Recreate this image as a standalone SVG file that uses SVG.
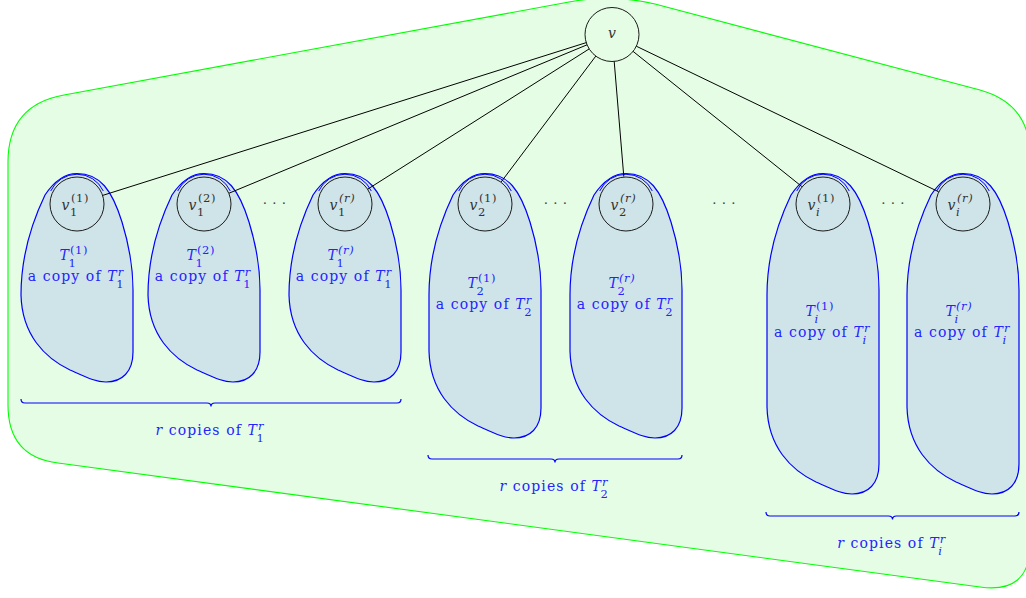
<svg xmlns="http://www.w3.org/2000/svg" xmlns:xlink="http://www.w3.org/1999/xlink" width="1026" height="598" viewBox="0 0 1026 598">
<style>
.bg{fill:#e5fde5;stroke:#00ff00;stroke-width:1.1}
.blob{fill:#cfe4e8;stroke:#0000ff;stroke-width:1.2}
.arc{fill:none;stroke:#0000ff;stroke-width:1}
.cir{fill:none;stroke:#1a1a1a;stroke-width:1}
.edge{stroke:#000;stroke-width:1}
.brace{fill:none;stroke:#0000ff;stroke-width:1.2}
text{font-family:"DejaVu Serif","Liberation Serif",serif}
.lab{font-size:14px;fill:#2424ff;letter-spacing:1.1px}
.nl{font-size:14px;fill:#333}
.sc{font-size:11.5px;letter-spacing:0.6px}
.it{font-style:italic}
.dots{font-size:13.5px;fill:#444}
</style>
<defs>
<path id="blob0" d="M0,173.5 C23,173.5 35,190 45,222 C53,248 56,270 56,290 L56,352 C56,372 45,382 29,382 C19,382 11,378 -7,370 C-32,358 -55,335 -56,295 C-56,255 -44,220 -32,195 C-22,180 -12,173.5 0,173.5Z"/>
<path id="blob1" d="M0,173.5 C23,173.5 35,190 45,222 C53,248 56,270 56,290 L56,408 C56,428 45,438 29,438 C19,438 11,434 -7,426 C-32,414 -55,391 -56,351 L-56,295 C-56,255 -44,220 -32,195 C-22,180 -12,173.5 0,173.5Z"/>
<path id="blob2" d="M0,173.5 C23,173.5 35,190 45,222 C53,248 56,270 56,290 L56,464 C56,484 45,494 29,494 C19,494 11,490 -7,482 C-32,470 -55,447 -56,407 L-56,295 C-56,255 -44,220 -32,195 C-22,180 -12,173.5 0,173.5Z"/>
<g id="top">
<path class="arc" d="M-26.3,191 A29 29 0 0 1 26.3,191"/>
<circle class="cir" cx="0" cy="204" r="27"/>
</g>
</defs>

<path id="region" class="bg" d="M569,2 L64,95 Q8,105 8,162 L8,405 Q8,457 58,463 L980,587 Q1030,594 1030,545 L1030,155 Q1030,104 980,90 L655,4 Q612,-6 569,2 Z"/>

<g id="T1-1">
<use href="#blob0" x="77" class="blob"/>
<use href="#top" x="77"/>
<text class="nl it" x="61.5" y="210">v</text><text class="nl sc" x="71" y="201.5">(1)</text><text class="nl sc" x="70" y="216">1</text>
<text class="lab it" x="59.5" y="260">T</text><text class="lab sc" x="70" y="253.5">(1)</text><text class="lab sc" x="68.5" y="266.5">1</text>
<text class="lab" x="76" y="281" text-anchor="middle">a copy of <tspan class="it">T</tspan><tspan class="sc it" dy="-5">r</tspan><tspan class="sc" dx="-7.5" dy="12">1</tspan></text>
</g>
<g id="T1-2">
<use href="#blob0" x="204" class="blob"/>
<use href="#top" x="204"/>
<text class="nl it" x="188.5" y="210">v</text><text class="nl sc" x="198" y="201.5">(2)</text><text class="nl sc" x="197" y="216">1</text>
<text class="lab it" x="186.5" y="260">T</text><text class="lab sc" x="197" y="253.5">(2)</text><text class="lab sc" x="195.5" y="266.5">1</text>
<text class="lab" x="203" y="281" text-anchor="middle">a copy of <tspan class="it">T</tspan><tspan class="sc it" dy="-5">r</tspan><tspan class="sc" dx="-7.5" dy="12">1</tspan></text>
</g>
<g id="T1-r">
<use href="#blob0" x="345" class="blob"/>
<use href="#top" x="345"/>
<text class="nl it" x="329.5" y="210">v</text><text class="nl sc it" x="339" y="201.5">(r)</text><text class="nl sc" x="338" y="216">1</text>
<text class="lab it" x="327.5" y="260">T</text><text class="lab sc it" x="338" y="253.5">(r)</text><text class="lab sc" x="336.5" y="266.5">1</text>
<text class="lab" x="344" y="281" text-anchor="middle">a copy of <tspan class="it">T</tspan><tspan class="sc it" dy="-5">r</tspan><tspan class="sc" dx="-7.5" dy="12">1</tspan></text>
</g>
<g id="T2-1">
<use href="#blob1" x="485" class="blob"/>
<use href="#top" x="485"/>
<text class="nl it" x="469.5" y="210">v</text><text class="nl sc" x="479" y="201.5">(1)</text><text class="nl sc" x="478" y="216">2</text>
<text class="lab it" x="467.5" y="288">T</text><text class="lab sc" x="478" y="281.5">(1)</text><text class="lab sc" x="476.5" y="294.5">2</text>
<text class="lab" x="484" y="309" text-anchor="middle">a copy of <tspan class="it">T</tspan><tspan class="sc it" dy="-5">r</tspan><tspan class="sc" dx="-7.5" dy="12">2</tspan></text>
</g>
<g id="T2-r">
<use href="#blob1" x="626" class="blob"/>
<use href="#top" x="626"/>
<text class="nl it" x="610.5" y="210">v</text><text class="nl sc it" x="620" y="201.5">(r)</text><text class="nl sc" x="619" y="216">2</text>
<text class="lab it" x="608.5" y="288">T</text><text class="lab sc it" x="619" y="281.5">(r)</text><text class="lab sc" x="617.5" y="294.5">2</text>
<text class="lab" x="625" y="309" text-anchor="middle">a copy of <tspan class="it">T</tspan><tspan class="sc it" dy="-5">r</tspan><tspan class="sc" dx="-7.5" dy="12">2</tspan></text>
</g>
<g id="Ti-1">
<use href="#blob2" x="823" class="blob"/>
<use href="#top" x="823"/>
<text class="nl it" x="807.5" y="210">v</text><text class="nl sc" x="817" y="201.5">(1)</text><text class="nl sc it" x="816" y="216">i</text>
<text class="lab it" x="805.5" y="316">T</text><text class="lab sc" x="816" y="309.5">(1)</text><text class="lab sc it" x="814.5" y="322.5">i</text>
<text class="lab" x="822" y="337" text-anchor="middle">a copy of <tspan class="it">T</tspan><tspan class="sc it" dy="-5">r</tspan><tspan class="sc it" dx="-7.5" dy="12">i</tspan></text>
</g>
<g id="Ti-r">
<use href="#blob2" x="963" class="blob"/>
<use href="#top" x="963"/>
<text class="nl it" x="947.5" y="210">v</text><text class="nl sc it" x="957" y="201.5">(r)</text><text class="nl sc it" x="956" y="216">i</text>
<text class="lab it" x="945.5" y="316">T</text><text class="lab sc it" x="956" y="309.5">(r)</text><text class="lab sc it" x="954.5" y="322.5">i</text>
<text class="lab" x="962" y="337" text-anchor="middle">a copy of <tspan class="it">T</tspan><tspan class="sc it" dy="-5">r</tspan><tspan class="sc it" dx="-7.5" dy="12">i</tspan></text>
</g>

<g id="root">
<circle class="cir" cx="612" cy="34.5" r="27"/>
<text class="nl it" x="612" y="38" text-anchor="middle">v</text>
</g>

<g id="connectors">
<line class="edge" x1="586.3" y1="42.6" x2="102.7" y2="195.4"/>
<line class="edge" x1="587.1" y1="44.8" x2="229" y2="193.2"/>
<line class="edge" x1="589.2" y1="48.9" x2="367.8" y2="189.1"/>
<line class="edge" x1="595.8" y1="56.1" x2="501.2" y2="181.9"/>
<line class="edge" x1="614.2" y1="61.4" x2="623.8" y2="176.6"/>
<line class="edge" x1="633.1" y1="51.4" x2="801.9" y2="186.6"/>
<line class="edge" x1="636.3" y1="46.2" x2="938.7" y2="191.8"/>
</g>

<g id="dots">
<text class="dots" x="265 274.5 284" y="208" text-anchor="middle">···</text>
<text class="dots" x="546 555.5 565" y="208" text-anchor="middle">···</text>
<text class="dots" x="714.5 724 733.5" y="208" text-anchor="middle">···</text>
<text class="dots" x="883.5 893 902.5" y="208" text-anchor="middle">···</text>
</g>

<g id="brace1">
<path class="brace" d="M21,399 Q21,403 25,403 L207,403 Q211,403 211,406.5 Q211,403 215,403 L397,403 Q401,403 401,399"/>
<text class="lab" x="210" y="435" text-anchor="middle"><tspan class="it">r</tspan> copies of <tspan class="it">T</tspan><tspan class="sc it" dy="-5">r</tspan><tspan class="sc" dx="-7.5" dy="12">1</tspan></text>
</g>
<g id="brace2">
<path class="brace" d="M428,455 Q428,459 432,459 L551,459 Q555,459 555,462.5 Q555,459 559,459 L678,459 Q682,459 682,455"/>
<text class="lab" x="554" y="491" text-anchor="middle"><tspan class="it">r</tspan> copies of <tspan class="it">T</tspan><tspan class="sc it" dy="-5">r</tspan><tspan class="sc" dx="-7.5" dy="12">2</tspan></text>
</g>
<g id="brace3">
<path class="brace" d="M766,512 Q766,516 770,516 L888.5,516 Q892.5,516 892.5,519.5 Q892.5,516 896.5,516 L1015,516 Q1019,516 1019,512"/>
<text class="lab" x="891.5" y="548" text-anchor="middle"><tspan class="it">r</tspan> copies of <tspan class="it">T</tspan><tspan class="sc it" dy="-5">r</tspan><tspan class="sc it" dx="-7.5" dy="12">i</tspan></text>
</g>
</svg>
